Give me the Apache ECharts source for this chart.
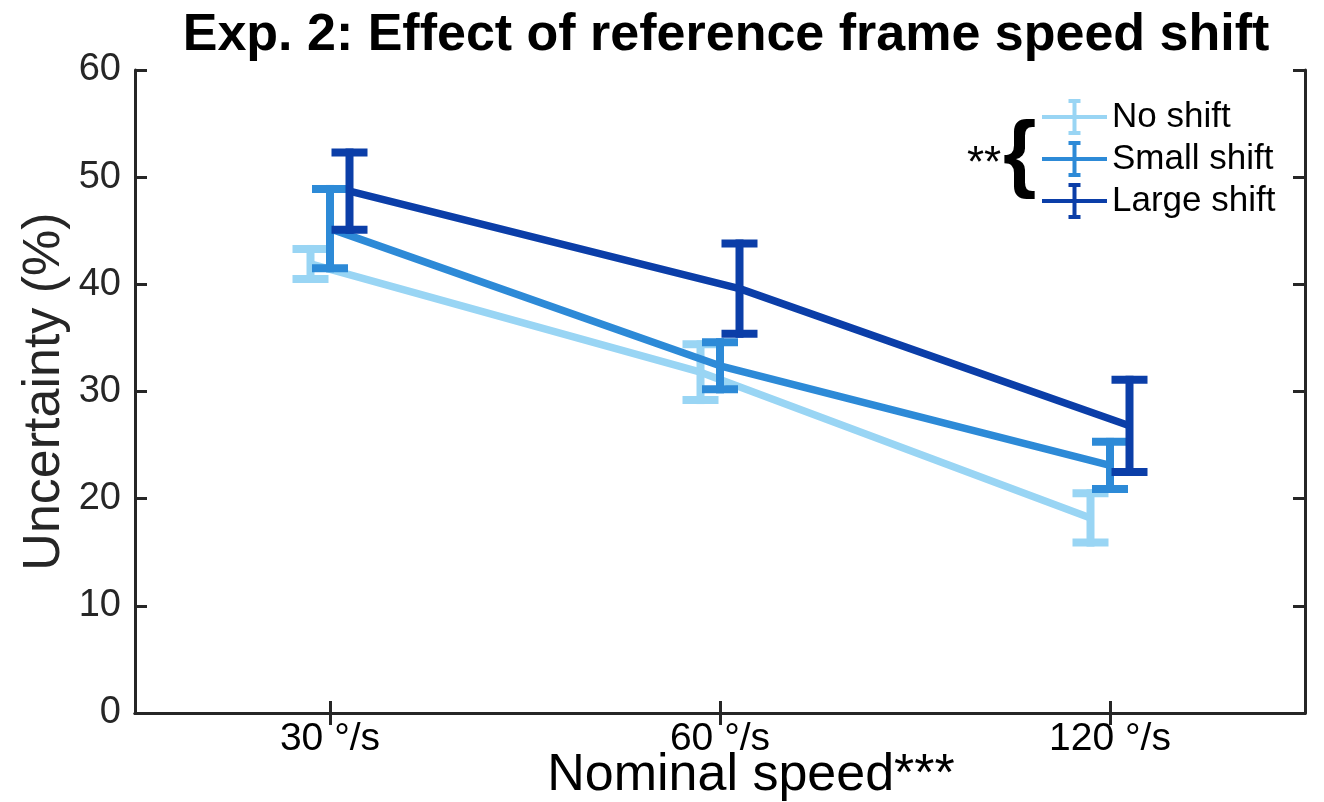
<!DOCTYPE html>
<html>
<head>
<meta charset="utf-8">
<title>Exp. 2: Effect of reference frame speed shift</title>
<script src="https://cdn.jsdelivr.net/npm/echarts@6/dist/echarts.min.js"></script>
<style>
  html, body { margin: 0; padding: 0; background: #fff; }
  #chart { width: 1324px; height: 802px; }
</style>
</head>
<body>
<div id="chart"></div>
<script>
// categories on the x axis (their centres sit at 1, 2, 3 on the data axis)
const categories = ['30 °/s', '60 °/s', '120 °/s'];
const categoryPos = [1, 2, 3];
const seriesNames = ['No shift', 'Small shift', 'Large shift'];

// means and error bar half-lengths
const noShiftMean = [41.9, 31.8, 18.2];
const noShiftErr = [1.4, 2.6, 2.3];
const smallShiftMean = [45.2, 32.4, 23.1];
const smallShiftErr = [3.7, 2.2, 2.2];
const largeShiftMean = [48.7, 39.6, 26.8];
const largeShiftErr = [3.6, 4.2, 4.3];

// small horizontal dodge so the error bars don't overlap
const dodge = [-0.05, 0, 0.05];
const colors = ['#99d5f4', '#2d8ad7', '#0b3ea8'];
const FONT = 'Liberation Sans, Arial, Helvetica, sans-serif';

const means = [noShiftMean, smallShiftMean, largeShiftMean];
const errs = [noShiftErr, smallShiftErr, largeShiftErr];

const chart = echarts.init(document.getElementById('chart'));

// error bar: vertical stroke plus two caps
const renderErr = (params, api) => {
  const x = api.value(0);
  const m = api.value(1);
  const e = api.value(2);
  const top = api.coord([x, m + e]);
  const bot = api.coord([x, m - e]);
  const hw = 18;
  const style = { stroke: api.visual('color'), lineWidth: 8, lineCap: 'butt' };
  return {
    type: 'group',
    children: [
      { type: 'line', shape: { x1: top[0], y1: top[1] - 4, x2: bot[0], y2: bot[1] + 4 }, style },
      { type: 'line', shape: { x1: top[0] - hw, y1: top[1], x2: top[0] + hw, y2: top[1] }, style },
      { type: 'line', shape: { x1: bot[0] - hw, y1: bot[1], x2: bot[0] + hw, y2: bot[1] }, style }
    ]
  };
};

// series sit on the hidden value axis (xAxisIndex 2) so they can be dodged
const series = [];
seriesNames.forEach((name, i) => {
  series.push({
    name: name,
    type: 'line',
    xAxisIndex: 2,
    symbol: 'none',
    lineStyle: { color: colors[i], width: 7.5 },
    itemStyle: { color: colors[i] },
    data: categoryPos.map((p, k) => [p + dodge[i], means[i][k]]),
    z: 2 + i * 2
  });
  series.push({
    name: name,
    type: 'custom',
    xAxisIndex: 2,
    renderItem: renderErr,
    itemStyle: { color: colors[i] },
    encode: { x: 0, y: 1 },
    data: categoryPos.map((p, k) => [p + dodge[i], means[i][k], errs[i][k]]),
    z: 3 + i * 2
  });
});

const legendIcon = 'path://M0,16h65v4H0z M30.5,0h4v36h-4z M26.5,0h12v4h-12z M26.5,32h12v4h-12z';

const axisLine = { show: true, lineStyle: { color: '#262626', width: 3 } };
const axisTick = { show: true, inside: true, length: 12, lineStyle: { color: '#262626', width: 3 } };
const catTick = { show: true, inside: true, length: 12, alignWithLabel: true, lineStyle: { color: '#262626', width: 3 } };

const options = {
  animation: false,
  backgroundColor: '#fff',
  title: {
    text: 'Exp. 2: Effect of reference frame speed shift',
    left: 721,
    top: 5,
    textAlign: 'center',
    textStyle: { fontFamily: FONT, fontSize: 52, fontWeight: 'bold', color: '#000' }
  },
  grid: { left: 135, right: 19, top: 70, bottom: 89, outerBoundsMode: 'none', containLabel: false },
  legend: {
    orient: 'vertical',
    left: 1042,
    top: 99,
    padding: 0,
    itemWidth: 65,
    itemHeight: 36,
    itemGap: 6,
    selectedMode: false,
    textStyle: { fontFamily: FONT, fontSize: 35, color: '#000' },
    data: seriesNames.map((n, i) => ({
      name: n,
      icon: legendIcon,
      itemStyle: { color: colors[i], borderWidth: 0 }
    }))
  },
  graphic: [
    {
      type: 'text',
      left: 967,
      top: 143,
      style: { text: '**', font: '44px ' + FONT, fill: '#000' }
    },
    {
      type: 'text',
      left: 1003,
      top: 114,
      style: { text: '{', font: 'bold 86px ' + FONT, fill: '#000' }
    }
  ],
  xAxis: [
    {
      type: 'category',
      data: categories,
      boundaryGap: true,
      position: 'bottom',
      name: 'Nominal speed***',
      nameLocation: 'middle',
      nameGap: 37,
      nameMoveOverlap: false,
      nameTextStyle: { fontFamily: FONT, fontSize: 52, color: '#000', padding: [0, 0, 0, 62] },
      axisLine,
      axisTick: catTick,
      axisLabel: { margin: 7, fontFamily: FONT, fontSize: 39, color: '#000' },
      splitLine: { show: false }
    },
    {
      type: 'category',
      data: categories,
      boundaryGap: true,
      position: 'top',
      axisLine,
      axisTick: catTick,
      axisLabel: { show: false },
      splitLine: { show: false }
    },
    {
      type: 'value',
      min: 0.5,
      max: 3.5,
      position: 'bottom',
      show: false
    }
  ],
  yAxis: [
    {
      type: 'value',
      min: 0,
      max: 60,
      interval: 10,
      position: 'left',
      name: 'Uncertainty (%)',
      nameLocation: 'middle',
      nameGap: 64,
      nameMoveOverlap: false,
      nameTextStyle: { fontFamily: FONT, fontSize: 52, color: '#262626' },
      axisLine,
      axisTick,
      axisLabel: { margin: 14, fontFamily: FONT, fontSize: 38, color: '#262626' },
      splitLine: { show: false }
    },
    {
      type: 'value',
      min: 0,
      max: 60,
      interval: 10,
      position: 'right',
      axisLine,
      axisTick,
      axisLabel: { show: false },
      splitLine: { show: false }
    }
  ],
  series: series
};

chart.setOption(options);
</script>
</body>
</html>
